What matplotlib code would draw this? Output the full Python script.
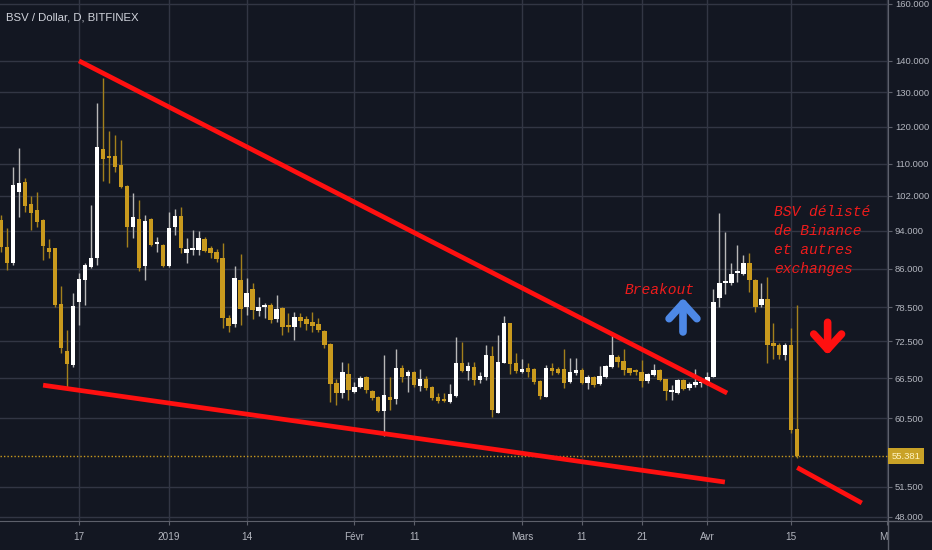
import numpy as np
import pandas as pd
import matplotlib
matplotlib.use('Agg')
import matplotlib.pyplot as plt
import matplotlib.dates as mdates
from matplotlib import font_manager
from matplotlib.ticker import FixedLocator, NullLocator
from matplotlib.lines import Line2D
from matplotlib.transforms import Bbox, TransformedBbox

# daily candles BSV / Dollar (Bitfinex)
dates = pd.date_range('2018-12-04', '2019-04-16', freq='D')

opens = [
    # dec
    96.4, 90.5, 87.1, 102.9, 105.4, 100.1, 98.7, 96.4, 90.2, 90.2, 79.2, 70.8, 68.6, 79.5,
    83.7, 86.3, 88.2, 113.8, 112.1, 112.1, 109.7, 104.4, 94.8, 96.6, 86.5, 96.6, 91.1, 90.9,
    # jan
    86.5, 94.8, 97.3, 89.2, 89.8, 89.8, 92.2, 90.2, 89.4, 88.2, 76.6, 75.5, 83.7, 78.6, 82.0, 77.8,
    78.6, 79.0, 76.4, 78.4, 75.3, 75.0, 76.7, 76.4, 75.8, 75.5, 74.3, 72.0, 65.7, 64.2, 67.2,
    # feb
    64.4, 65.1, 66.7, 64.5, 63.6, 61.6, 63.6, 63.3, 68.1, 66.8, 67.5, 65.3, 66.4, 65.1,
    63.6, 63.3, 62.9, 63.8, 68.9, 67.6, 68.3, 66.2, 66.7, 70.0, 61.3, 68.9, 75.7, 68.9,
    # mar
    67.5, 68.1, 68.0, 66.0, 63.6, 68.1, 68.0, 68.0, 65.9, 67.3, 67.8, 65.7, 66.7, 65.6, 66.7, 68.3,
    69.9, 69.2, 68.1, 67.8, 67.5, 66.0, 67.0, 67.8, 66.4, 64.4, 64.2, 66.2, 64.9, 65.4, 65.7,
    # apr
    65.7, 66.7, 80.2, 83.2, 83.2, 85.1, 84.9, 87.1, 83.7, 79.0, 80.1, 72.2, 71.9, 70.2, 71.9, 59.0,
]
highs = [
    97.5, 94.6, 109.2, 114.1, 106.4, 101.9, 102.9, 96.6, 92.2, 90.3, 82.6, 74.5, 81.2, 85.1,
    87.1, 99.9, 126.9, 134.5, 118.8, 117.7, 116.3, 104.6, 102.7, 101.0, 97.5, 96.9, 92.7, 91.1,
    98.2, 98.9, 99.4, 92.4, 94.2, 94.0, 92.7, 90.7, 90.0, 91.3, 77.1, 86.5, 89.0, 84.1, 83.2, 80.4,
    79.4, 79.4, 80.8, 78.6, 77.5, 77.7, 77.5, 76.9, 77.7, 76.6, 74.5, 72.2, 66.4, 69.1, 68.9,
    65.9, 66.8, 66.8, 64.7, 63.8, 70.2, 66.7, 71.2, 68.6, 67.8, 67.6, 68.0, 66.8, 65.3,
    64.2, 64.2, 65.6, 73.3, 72.4, 69.1, 69.1, 67.5, 71.9, 71.7, 73.5, 76.9, 75.7, 70.5,
    69.6, 68.9, 68.1, 66.2, 68.6, 68.9, 68.3, 71.2, 69.7, 69.7, 68.1, 67.0, 66.8, 68.4, 68.6, 73.5,
    70.2, 71.2, 68.1, 68.0, 69.4, 67.3, 68.8, 68.0, 66.4, 65.4, 66.4, 66.4, 65.9, 68.0, 66.2,
    67.5, 82.0, 98.0, 93.8, 87.1, 90.9, 88.8, 89.2, 83.9, 83.2, 84.3, 75.7, 72.2, 72.2, 74.8, 79.0,
]
lows = [
    89.5, 85.7, 86.7, 97.1, 98.2, 94.2, 94.8, 87.8, 88.2, 78.6, 70.5, 65.1, 68.3, 75.3,
    79.0, 86.1, 86.7, 105.6, 105.1, 107.9, 103.9, 90.5, 92.4, 85.5, 83.7, 90.7, 89.4, 86.3,
    86.3, 93.1, 89.2, 87.1, 88.8, 88.8, 89.4, 88.2, 87.4, 74.8, 74.1, 75.0, 75.3, 77.1, 76.4, 76.9,
    76.6, 75.7, 75.8, 73.6, 74.1, 72.7, 75.0, 74.5, 74.1, 74.1, 71.4, 62.9, 62.4, 63.4, 63.2,
    64.2, 64.9, 64.2, 63.2, 61.4, 58.1, 61.7, 62.6, 65.9, 64.4, 65.1, 64.5, 64.7, 63.2,
    62.7, 62.9, 62.7, 63.6, 67.5, 66.2, 65.4, 65.7, 66.2, 60.7, 61.3, 68.9, 67.2, 67.3,
    67.3, 66.7, 65.6, 63.3, 63.6, 67.0, 67.2, 64.9, 65.7, 67.0, 65.6, 64.8, 65.1, 65.4, 66.5, 68.1,
    68.3, 67.0, 67.0, 67.0, 65.1, 65.7, 66.8, 66.0, 63.2, 63.2, 64.1, 64.7, 64.7, 65.1, 65.1,
    65.4, 66.7, 78.6, 81.0, 82.8, 83.3, 84.7, 81.4, 77.6, 78.6, 68.9, 69.6, 69.6, 69.4, 58.5, 55.1,
]
closes = [
    90.5, 87.1, 104.6, 105.1, 99.6, 98.0, 95.9, 90.7, 89.4, 79.0, 71.4, 68.8, 78.8, 83.9,
    86.7, 88.2, 114.3, 111.3, 111.5, 109.2, 104.1, 94.8, 97.1, 86.1, 96.2, 90.9, 91.6, 86.5,
    94.6, 97.3, 90.2, 90.0, 90.2, 92.4, 89.6, 89.2, 88.0, 76.6, 75.1, 84.1, 78.2, 81.2, 78.0, 78.6,
    79.0, 76.2, 78.2, 75.0, 75.0, 76.7, 76.0, 75.5, 75.1, 74.5, 71.9, 65.6, 64.2, 67.5, 64.7,
    65.1, 66.5, 64.7, 63.5, 61.6, 63.9, 63.2, 68.1, 66.7, 67.5, 65.4, 66.4, 64.9, 63.5,
    63.0, 63.0, 64.1, 68.9, 67.6, 68.4, 66.2, 66.8, 70.2, 61.7, 69.1, 75.7, 68.8, 67.6,
    68.0, 67.5, 65.9, 63.8, 68.1, 67.6, 67.3, 65.7, 67.5, 67.8, 65.7, 66.7, 65.4, 66.8, 68.4, 70.2,
    69.1, 67.8, 67.3, 67.5, 66.0, 67.2, 67.8, 66.2, 64.5, 64.7, 66.2, 64.8, 65.6, 65.9, 65.9,
    66.7, 79.5, 83.2, 83.5, 84.9, 85.5, 87.1, 83.7, 78.6, 80.1, 71.9, 71.7, 70.2, 71.9, 58.9, 55.381,
]
last_price = 55.381

price_ticks = [48, 51.5, 60.5, 66.5, 72.5, 78.5, 86, 94, 102, 110, 120, 130, 140, 160]
date_ticks = ['2018-12-17', '2019-01-01', '2019-01-14', '2019-02-01', '2019-02-11', '2019-03-01',
              '2019-03-11', '2019-03-21', '2019-04-01', '2019-04-15', '2019-05-01']
date_labels = ['17', '2019', '14', 'Févr', '11', 'Mars', '11', '21', 'Avr', '15', 'Mai']

# hand drawn lines (date, price)
upper_line = (['2018-12-17 00:00', '2019-04-04 07:00'], [140, 64.2])
lower_line = (['2018-12-11 00:00', '2019-04-03 22:00'], [65.4, 52.1])
drop_line = (['2019-04-16 00:00', '2019-04-26 19:00'], [53.9, 49.6])

BG = '#131722'
GRID = '#323644'
AXIS = '#5d606b'
TXT = '#b2b5be'
GOLD = '#c99a1e'
RED = '#ff1010'

names = {f.name for f in font_manager.fontManager.ttflist}
narrow = 'Liberation Sans Narrow' if 'Liberation Sans Narrow' in names else 'Liberation Sans'

fig = plt.figure(figsize=(9.32, 5.5), dpi=100, facecolor=BG)
ax = fig.add_axes([0, 29 / 550, 888 / 932, 521 / 550], facecolor=BG)

x = mdates.date2num(dates)
o = np.array(opens); h = np.array(highs); l = np.array(lows); c = np.array(closes)
up = c >= o

# wicks
ax.vlines(x[up], l[up], h[up], color='#b8b8b8', lw=1, zorder=2)
ax.vlines(x[~up], l[~up], h[~up], color='#a3801c', lw=1, zorder=2)
# bodies
ax.bar(x[up], c[up] - o[up], bottom=o[up], width=0.75, color='#ffffff', lw=0, zorder=3)
ax.bar(x[~up], o[~up] - c[~up], bottom=c[~up], width=0.75, color=GOLD, lw=0, zorder=3)

# current price line
ax.axhline(last_price, color=GOLD, lw=1, ls=(0, (1, 1.5)), zorder=2)

for dd, pp in (upper_line, lower_line, drop_line):
    ax.plot(mdates.date2num(pd.to_datetime(dd)), pp, color=RED, lw=3.4, zorder=4,
            solid_capstyle='butt')

ax.set_yscale('log')
ax.set_ylim(47.55, 161.5)
ax.set_xlim(mdates.date2num(pd.Timestamp('2018-12-17')) - 13.2,
            mdates.date2num(pd.Timestamp('2018-12-17')) + 135.17)

ax.yaxis.set_major_locator(FixedLocator(price_ticks))
ax.yaxis.set_minor_locator(NullLocator())
ax.set_yticklabels([f'{v:.3f}' for v in price_ticks])
ax.yaxis.tick_right()
ax.set_xticks(mdates.date2num(pd.to_datetime(date_ticks)))
ax.set_xticklabels(date_labels)

ax.grid(True, color=GRID, lw=1)
ax.set_axisbelow(True)
for s in ['top', 'left']:
    ax.spines[s].set_visible(False)
for s in ['right', 'bottom']:
    ax.spines[s].set_color(AXIS)
ax.tick_params(axis='y', colors=AXIS, labelcolor=TXT, labelsize=6.8, length=3, pad=2)
ax.tick_params(axis='x', colors=AXIS, labelcolor=TXT, labelsize=7.2, length=3, pad=5)
for lab in ax.get_xticklabels() + ax.get_yticklabels():
    lab.set_family(narrow)

clip = TransformedBbox(Bbox([[0, 0], [888 / 932, 1]]), fig.transFigure)
last_lab = ax.get_xticklabels()[-1]
last_lab.set_clip_box(clip)
last_lab.set_clip_on(True)

# axis frame continuing into the corner
fig.add_artist(Line2D([888 / 932, 888 / 932], [0, 29 / 550], color=AXIS, lw=1))
fig.add_artist(Line2D([888 / 932, 1], [29 / 550, 29 / 550], color=AXIS, lw=1))

# last price label
ax.text(1.004, last_price, f'{last_price:.3f}', transform=ax.get_yaxis_transform(),
        ha='left', va='center', fontsize=6.8, family=narrow, color='#fff4c4',
        bbox=dict(boxstyle='square,pad=0.35', fc='#c9a227', ec='none'), clip_on=False, zorder=6)

fig.text(6 / 932, 1 - 18 / 550, 'BSV / Dollar, D, BITFINEX', color='#d1d4dc', fontsize=8.2,
         family=narrow, ha='left', va='center')

# annotations
note = dict(color='#ee1c1c', family='Liberation Mono', style='italic', fontsize=10.5)
ax.text(mdates.date2num(pd.Timestamp('2019-03-18 05:00')), 81.8, 'Breakout',
        ha='left', va='center', zorder=6, **note)
ax.text(mdates.date2num(pd.Timestamp('2019-04-12 02:00')), 99.9,
        'BSV délisté\nde Binance\net autres\nexchanges', ha='left', va='top',
        linespacing=1.45, zorder=6, **note)

arrow = dict(arrowstyle='->,head_length=0.55,head_width=0.5', lw=5.5, mutation_scale=20,
             shrinkA=0, shrinkB=0, capstyle='round', joinstyle='round')
bx = mdates.date2num(pd.Timestamp('2019-03-27 22:00'))
ax.annotate('', xy=(bx, 80.3), xytext=(bx, 74.1), arrowprops=dict(color='#4d88e6', **arrow), zorder=6)
rx = mdates.date2num(pd.Timestamp('2019-04-21 02:00'))
ax.annotate('', xy=(rx, 70.2), xytext=(rx, 75.8), arrowprops=dict(color=RED, **arrow), zorder=6)

fig.savefig('out.png', dpi=100, facecolor=BG)
